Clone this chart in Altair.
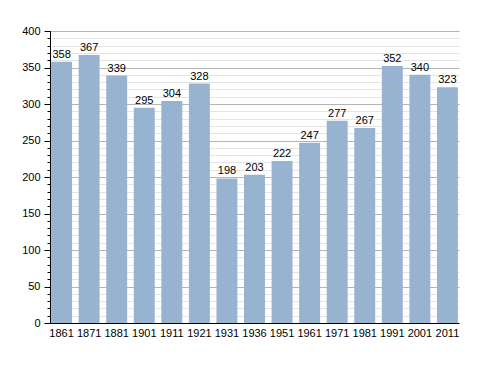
import altair as alt
import pandas as pd

years = ["1861", "1871", "1881", "1901", "1911", "1921", "1931", "1936",
         "1951", "1961", "1971", "1981", "1991", "2001", "2011"]
population = [358, 367, 339, 295, 304, 328, 198, 203, 222, 247, 277, 267, 352, 340, 323]

df = pd.DataFrame({"year": years, "pop": population})

major_vals = list(range(0, 401, 50))
minor_vals = list(range(0, 401, 10))

FONT = "Liberation Sans"

yscale = alt.Scale(domain=[0, 400], nice=False)
xscale = alt.Scale(paddingInner=0.24, paddingOuter=0.04)

x_axis = alt.Axis(labelAngle=0, ticks=False, domainColor="#000000",
                  labelFont=FONT, labelFontSize=11, labelColor="#000000",
                  labelPadding=4, title=None, grid=False)

minor_axis = alt.Axis(orient="left", values=minor_vals, labels=False, ticks=True, tickSize=3,
                      tickColor="#000000", grid=True, gridColor="#e4e4e4",
                      domain=False, title=None)
major_axis = alt.Axis(orient="left", values=major_vals, labels=True, ticks=True, tickSize=6,
                      tickColor="#000000", grid=True, gridColor="#b4b4b4",
                      domainColor="#000000", labelFont=FONT, labelFontSize=11,
                      labelColor="#000000", labelPadding=4, title=None)

base = alt.Chart(df)

minor_layer = base.mark_bar(opacity=0).encode(
    x=alt.X("year:N", sort=years, scale=xscale, axis=x_axis),
    y=alt.Y("pop:Q", scale=yscale, axis=minor_axis),
)

bars = base.mark_bar(color="#98b3cf").encode(
    x=alt.X("year:N", sort=years, scale=xscale, axis=x_axis),
    y=alt.Y("pop:Q", scale=yscale, axis=major_axis),
)

labels = base.mark_text(baseline="bottom", dy=-2, font=FONT, fontSize=11,
                        color="#000000").encode(
    x=alt.X("year:N", sort=years, scale=xscale, axis=x_axis),
    y=alt.Y("pop:Q", scale=yscale, axis=None),
    text="pop:Q",
)

chart = alt.layer(minor_layer, bars, labels).resolve_axis(y="independent").properties(
    width=409, height=292,
    autosize=alt.AutoSizeParams(type="none"),
    padding={"left": 42, "top": 23, "right": 20, "bottom": 40},
).configure_view(stroke=None).configure_axis(domainWidth=1)

chart.save("out.html", embed_options={"renderer": "svg", "actions": False})
